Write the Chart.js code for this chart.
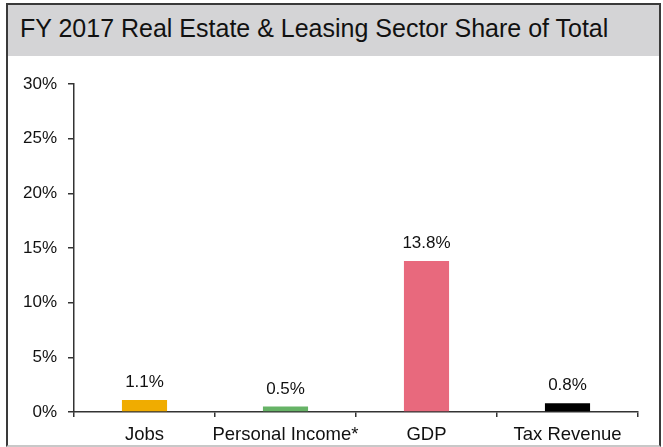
<!DOCTYPE html>
<html>
<head>
<meta charset="utf-8">
<script src="https://cdn.jsdelivr.net/npm/chart.js@4/dist/chart.umd.min.js"></script>
<style>
  html, body { margin: 0; padding: 0; background: #fff; }
  body { width: 663px; height: 447px; position: relative; overflow: hidden; font-family: "Liberation Sans", Arial, sans-serif; }
  #frame { position: absolute; left: 6px; top: 3px; width: 651px; height: 440px; border: 2px solid #3a3a3a; border-bottom-color: #c8c8c8; }
  #title { position: absolute; left: 0; top: 0; right: 0; height: 51px; background: #d4d4d6; color: #111; font-size: 25px; line-height: 47px; padding-left: 12px; white-space: nowrap; }
  #wrap { position: absolute; left: 8px; top: 56px; width: 650px; height: 391px; }
</style>
</head>
<body>
<div id="frame"><div id="title">FY 2017 Real Estate &amp; Leasing Sector Share of Total</div></div>
<div id="wrap"><canvas id="c"></canvas></div>
<script>
// values (percent)
const categories = ["Jobs", "Personal Income*", "GDP", "Tax Revenue"];
const shares = [1.1, 0.5, 13.8, 0.8];
const barColors = ["#f0ac00", "#66b366", "#e8697d", "#000000"];
const yTicks = [0, 5, 10, 15, 20, 25, 30];

const fontFam = '"Liberation Sans", Arial, sans-serif';

const valueLabels = {
  id: "valueLabels",
  afterDatasetsDraw(chart) {
    const ctx = chart.ctx;
    const meta = chart.getDatasetMeta(0);
    ctx.save();
    ctx.font = "17px " + fontFam;
    ctx.fillStyle = "#111";
    ctx.textAlign = "center";
    ctx.textBaseline = "bottom";
    meta.data.forEach((bar, i) => {
      ctx.fillText(shares[i].toFixed(1) + "%", bar.x, bar.y - 9);
    });
    ctx.restore();
  }
};

new Chart(document.getElementById("c"), {
  type: "bar",
  data: {
    labels: categories,
    datasets: [{
      data: shares,
      backgroundColor: barColors,
      categoryPercentage: 1,
      barPercentage: 0.32
    }]
  },
  options: {
    responsive: true,
    maintainAspectRatio: false,
    animation: false,
    layout: { padding: { top: 28, right: 20, left: 0, bottom: 0 } },
    plugins: { legend: { display: false }, tooltip: { enabled: false } },
    scales: {
      x: {
        offset: true,
        grid: { offset: true, drawOnChartArea: false, drawTicks: true, tickLength: 5, color: "#333", lineWidth: 1.5 },
        border: { color: "#333", width: 1.5 },
        ticks: {
          color: "#111",
          font: { family: fontFam, size: 18.5 },
          padding: 7,
          autoSkip: false,
          maxRotation: 0,
          minRotation: 0
        },
        afterFit(s) { s.height = 35; }
      },
      y: {
        min: 0,
        max: 30,
        afterBuildTicks(s) { s.ticks = yTicks.map(v => ({ value: v })); },
        grid: { drawOnChartArea: false, drawTicks: true, tickLength: 6, color: "#333", lineWidth: 1.5 },
        border: { color: "#333", width: 1.5 },
        ticks: {
          color: "#111",
          font: { family: fontFam, size: 17 },
          padding: 11,
          callback: v => v + "%"
        },
        afterFit(s) { s.width = 66; }
      }
    }
  },
  plugins: [valueLabels]
});
</script>
</body>
</html>
